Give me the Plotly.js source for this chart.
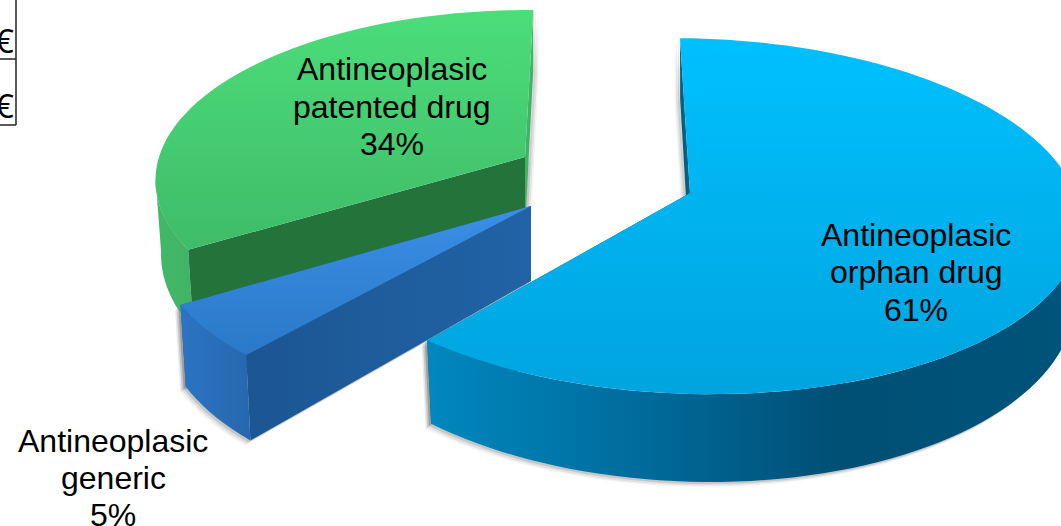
<!DOCTYPE html>
<html>
<head>
<meta charset="utf-8">
<script src="https://cdn.plot.ly/plotly-3.0.1.min.js"></script>
<style>html,body{margin:0;padding:0;background:#fff;overflow:hidden}</style>
</head>
<body>
<div id="chart" style="width:1061px;height:526px"></div>
<script>
// Drug spending shares
const categories = ['Antineoplasic orphan drug', 'Antineoplasic generic', 'Antineoplasic patented drug'];
const shares = [61, 5, 34];
const labelLines = [['Antineoplasic', 'orphan drug'], ['Antineoplasic', 'generic'], ['Antineoplasic', 'patented drug']];
const tableSymbols = ['€', '€'];

// Perspective settings shared by the exploded wedges
const ROTATION = 1, K = 0.13, BASE_SHRINK = 0.985;
// Only this angular window of a rim faces the viewer
const FRONT_WINDOW = [97, 263];

const wedgeGeometry = [
  {cx: 690, cy: 193, sx: 385, sy: 175, shear: -18, depth: 72, kDepth: 0.18},
  {cx: 531, cy: 206, sx: 370, sy: 177, shear: 21, depth: 75, kDepth: 0.16},
  {cx: 525, cy: 157, sx: 366, sy: 166, shear: 3, depth: 72, kDepth: 0.18}
];

// rear: the cut facing away from the viewer; near: the cut facing the viewer
const wedgeColors = [
  {top: ['#00c0ff', '#00a4de'], topRange: [38, 396],
   outer: [[0, '#0088bf'], [0.35, '#006a9a'], [0.65, '#004f75'], [1, '#00537a']], outerRange: [426, 1061],
   rear: '#00607f', near: '#00607f'},
  {top: ['#3a8fe6', '#2b79c8'], topRange: [206, 353],
   outer: [[0, '#2b74c4'], [1, '#2668ae']], outerRange: [180, 250],
   rear: '#1f5fa3', near: [[0, '#1c5692'], [1, '#2163a6']], nearRange: [246, 532]},
  {top: ['#4cdd7a', '#3cb565'], topRange: [10, 300],
   outer: [[0, '#43b868'], [1, '#3fb466']], outerRange: [155, 195],
   rear: '#3fb366', near: '#23733a'}
];
// Which end of each wedge's span is the rear cut: 0 = start, 1 = end
const rearEnd = [0, 1, 1];

const labelAnchors = [
  {x: 916, y: [235, 272, 310]},
  {x: 113, y: [441, 478, 515]},
  {x: 392, y: [69, 107, 144]}
];
const shadowShift = [-1, -1, 1];

function project(g, deg, lower) {
  const a = deg * Math.PI / 180, X = Math.sin(a), Y = Math.cos(a), den = 1 + K * Y;
  let dx = (g.sx * X + g.shear * Y) / den, y = g.cy - g.sy * Y / den;
  if (lower) { dx *= BASE_SHRINK; y += g.depth / (1 + g.kDepth * Y); }
  return [g.cx + dx, y];
}
function arc(g, from, to, lower) {
  const pts = [], n = Math.max(2, Math.ceil(Math.abs(to - from) / 2));
  for (let i = 0; i <= n; i++) pts.push(project(g, from + (to - from) * i / n, lower));
  return pts;
}
function apex(g, lower) { return lower ? [g.cx, g.cy + g.depth] : [g.cx, g.cy]; }

function poly(pts, fill) {
  const t = {
    type: 'scatter', mode: 'none', fill: 'toself', hoverinfo: 'skip', showlegend: false,
    x: pts.map(p => p[0]).concat(pts[0][0]), y: pts.map(p => p[1]).concat(pts[0][1])
  };
  if (fill.solid) t.fillcolor = fill.solid;
  else t.fillgradient = {type: fill.dir, colorscale: fill.scale, start: fill.range[0], stop: fill.range[1]};
  return t;
}
function grad(spec, range, dir) {
  if (typeof spec === 'string') return {solid: spec};
  return {dir: dir, scale: spec, range: range};
}
function cutWall(g, deg) {
  return [project(g, deg, false), project(g, deg, true), apex(g, true), apex(g, false)];
}
function rimWindow(a, b) {
  return [Math.max(a, FRONT_WINDOW[0]), Math.min(b, FRONT_WINDOW[1])];
}

// Angular spans follow from the shares, running clockwise from the rotation angle
let cursor = ROTATION;
const spans = shares.map(v => { const s = [cursor, cursor + v * 3.6]; cursor = s[1]; return s; });

const traces = [];

// Soft drop shadows under the walls
[0, 1, 2].forEach(i => {
  const g = wedgeGeometry[i], [a, b] = spans[i], [ra, rb] = rimWindow(a, b);
  const rim = arc(g, ra, rb, false).concat(arc(g, rb, ra, true));
  const walls = [rim, cutWall(g, a), cutWall(g, b)];
  [[2.2, 0.16], [4, 0.1], [5.5, 0.06]].forEach(([d, op]) => {
    walls.forEach(w => {
      traces.push(poly(w.map(p => [p[0] + shadowShift[i] * d, p[1] + d * 0.9]), {solid: 'rgba(60,60,60,' + op + ')'}));
    });
  });
});

// Wedges painted back to front
[2, 1, 0].forEach(i => {
  const g = wedgeGeometry[i], c = wedgeColors[i], [a, b] = spans[i], [ra, rb] = rimWindow(a, b);
  const rearCut = rearEnd[i] ? b : a, nearCut = rearEnd[i] ? a : b;
  traces.push(poly(cutWall(g, rearCut), grad(c.rear, c.nearRange, 'horizontal')));
  traces.push(poly(cutWall(g, nearCut), grad(c.near, c.nearRange, 'horizontal')));
  // Curved rim wall
  traces.push(poly(arc(g, ra, rb, false).concat(arc(g, rb, ra, true)), grad(c.outer, c.outerRange, 'horizontal')));
  // Upper face
  traces.push(poly([apex(g, false)].concat(arc(g, a, b, false)),
    {dir: 'vertical', scale: [[0, c.top[0]], [1, c.top[1]]], range: c.topRange}));
});

const annotations = [];
shares.forEach((v, i) => {
  labelLines[i].concat(v + '%').forEach((line, j) => {
    annotations.push({
      x: labelAnchors[i].x, y: labelAnchors[i].y[j], xref: 'x', yref: 'y', text: line,
      showarrow: false, xanchor: 'center', yanchor: 'middle',
      font: {family: 'Liberation Sans, Arial, sans-serif', size: 32, color: '#000'}
    });
  });
});
tableSymbols.forEach((s, i) => {
  annotations.push({
    x: 15.5, y: [40, 105][i], xref: 'x', yref: 'y', text: s, showarrow: false,
    xanchor: 'right', yanchor: 'middle',
    font: {family: 'Open Sans, sans-serif', size: 33, color: '#000'}
  });
});

const ruleColor = '#222222';
const shapes = [
  {type: 'line', xref: 'x', yref: 'y', x0: 16, x1: 16, y0: 0, y1: 125, line: {color: ruleColor, width: 1.5}},
  {type: 'line', xref: 'x', yref: 'y', x0: 0, x1: 16, y0: 59, y1: 59, line: {color: ruleColor, width: 1.5}},
  {type: 'line', xref: 'x', yref: 'y', x0: 0, x1: 16, y0: 125, y1: 125, line: {color: ruleColor, width: 1.5}}
];

const hidden = {visible: false, fixedrange: true, showgrid: false, zeroline: false};
Plotly.newPlot('chart', traces, {
  width: 1061, height: 526, margin: {l: 0, r: 0, t: 0, b: 0},
  paper_bgcolor: '#fff', plot_bgcolor: '#fff', showlegend: false,
  xaxis: Object.assign({range: [0, 1061]}, hidden),
  yaxis: Object.assign({range: [526, 0]}, hidden),
  annotations: annotations, shapes: shapes
}, {staticPlot: true, displayModeBar: false});
</script>
</body>
</html>
